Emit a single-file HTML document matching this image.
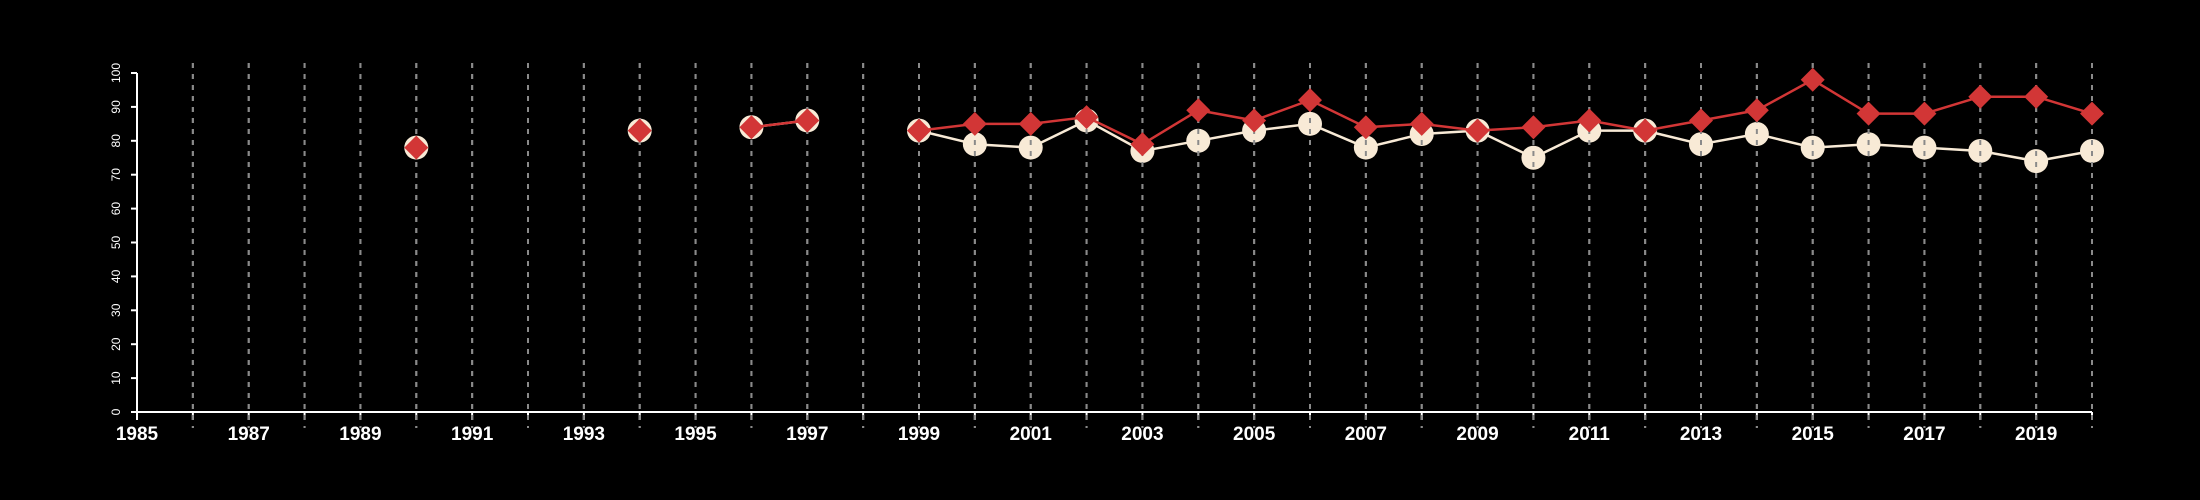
<!DOCTYPE html>
<html><head><meta charset="utf-8"><style>
html,body{margin:0;padding:0;background:#000;}
svg{display:block;font-family:"Liberation Sans",sans-serif;}
</style></head><body>
<svg id="chart" width="2200" height="500" viewBox="0 0 2200 500" xmlns="http://www.w3.org/2000/svg">
<rect width="2200" height="500" fill="#000"/>
<g id="grid"></g>
<g id="axes"></g>
<g id="s1"></g>
<g id="grid2"></g>
<g id="s2"></g>
</svg>
<script>
const years = [1990,1994,1996,1997,1999,2000,2001,2002,2003,2004,2005,2006,2007,2008,2009,2010,2011,2012,2013,2014,2015,2016,2017,2018,2019,2020];
const whiteValues = [78,83,84,86,83,79,78,86,77,80,83,85,78,82,83,75,83,83,79,82,78,79,78,77,74,77];
const redValues = [78,83,84,86,83,85,85,87,79,89,86,92,84,85,83,84,86,83,86,89,98,88,88,93,93,88];
const yTicks = [0,10,20,30,40,50,60,70,80,90,100];
const xMin = 1985, xMax = 2020;

const NS = "http://www.w3.org/2000/svg";
const L = 137, R = 2092, T = 73, B = 412;
const xs = v => L + (v - xMin) / (xMax - xMin) * (R - L);
const ys = v => B - v / 100 * (B - T);
function mk(tag, attrs, parent){ const e = document.createElementNS(NS, tag); for (const k in attrs) e.setAttribute(k, attrs[k]); parent.appendChild(e); return e; }

const grid = document.getElementById('grid'), grid2 = document.getElementById('grid2'), axes = document.getElementById('axes');
for (let y = xMin + 1; y <= xMax; y++) {
  for (const g of [grid, grid2]) {
    const ln = mk('line', {x1: xs(y), x2: xs(y), y1: 63, y2: 428, stroke: '#8a8a8a', 'stroke-width': 2, 'stroke-dasharray': '5,6'}, g);
    
    
  }
}
// axes
let a = mk('line', {x1: L, x2: L, y1: T, y2: B, stroke: '#fff', 'stroke-width': 2}, axes);


a = mk('line', {x1: L, x2: R, y1: B, y2: B, stroke: '#fff', 'stroke-width': 2}, axes);


for (const t of yTicks) {
  const tk = mk('line', {x1: L - 6, x2: L, y1: ys(t), y2: ys(t), stroke: '#fff', 'stroke-width': 2}, axes);
  
  
  const tx = mk('text', {x: 0, y: 0, fill: '#fff', 'font-size': 12, 'text-anchor': 'middle', transform: `translate(120,${ys(t)}) rotate(-90)`}, axes);
  tx.textContent = t;
  
  
}
for (let y = xMin; y <= xMax; y++) {
  const tk = mk('line', {x1: xs(y), x2: xs(y), y1: B, y2: B + 8, stroke: '#fff', 'stroke-width': 2}, axes);
  
  
  if ((y - xMin) % 2 === 0) {
    const tx = mk('text', {x: xs(y), y: 440, fill: '#fff', 'font-size': 19, 'font-weight': 'bold', 'text-anchor': 'middle'}, axes);
    tx.textContent = y;
    
    
  }
}
function series(gid, vals, color, shape) {
  const g = document.getElementById(gid);
  for (let i = 1; i < years.length; i++) {
    if (years[i] - years[i-1] === 1) {
      const ln = mk('line', {x1: xs(years[i-1]), y1: ys(vals[i-1]), x2: xs(years[i]), y2: ys(vals[i]), stroke: color, 'stroke-width': 2.5}, g);
      
      
    }
  }
  for (let i = 0; i < years.length; i++) {
    const cx = xs(years[i]), cy = ys(vals[i]);
    let m;
    if (shape === 'circle') m = mk('circle', {cx, cy, r: 12, fill: '#f8ead6'}, g);
    else m = mk('polygon', {points: `${cx},${cy-12} ${cx+12},${cy} ${cx},${cy+12} ${cx-12},${cy}`, fill: '#d23636'}, g);
    
    
  }
}
series('s1', whiteValues, '#f8ead6', 'circle');
series('s2', redValues, '#d23636', 'diamond');
</script>
</body></html>
